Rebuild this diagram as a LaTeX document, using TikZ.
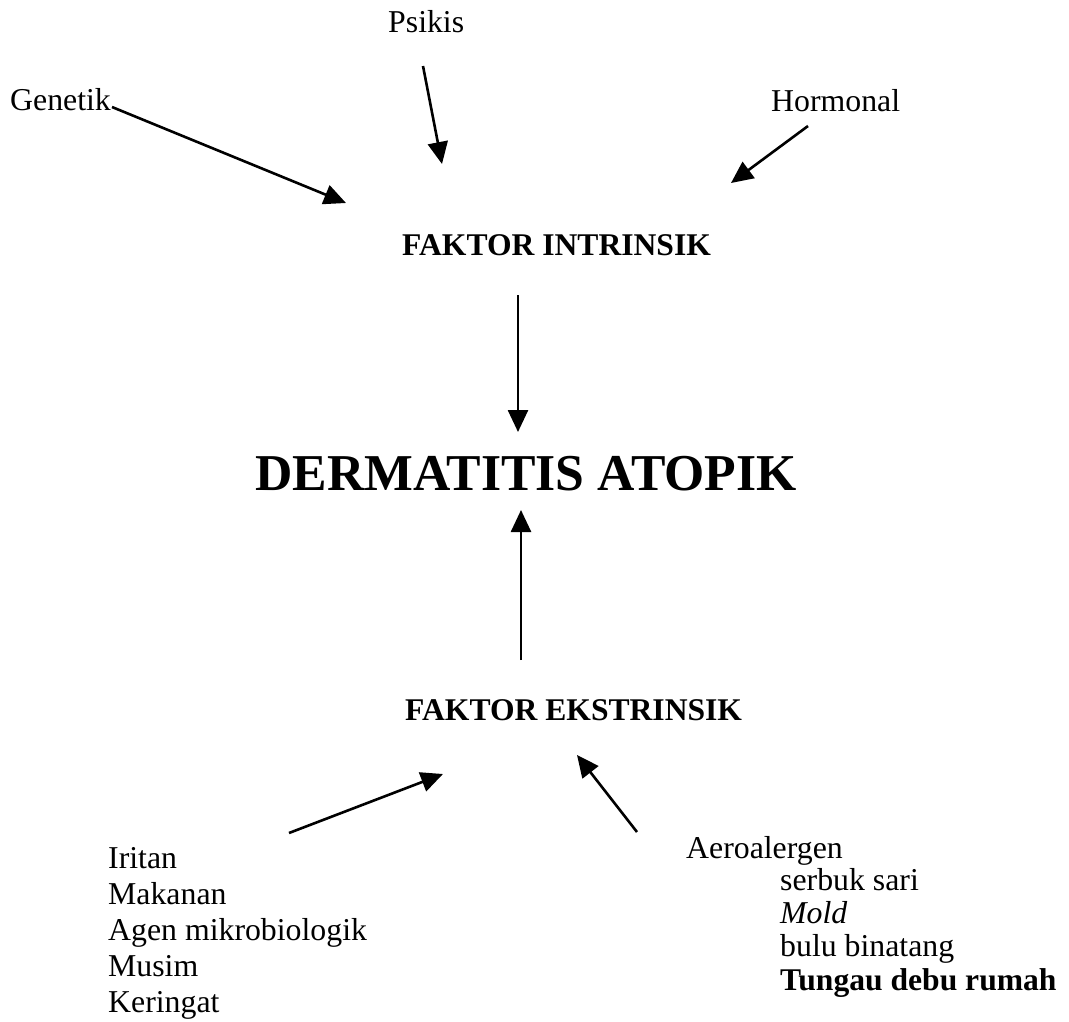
\documentclass[tikz,border=0pt]{standalone}
\usepackage{fontspec}
\setmainfont{Liberation Serif}
\usetikzlibrary{arrows.meta}
\begin{document}
\begin{tikzpicture}[x=1pt,y=-1pt,
  lbl/.style={inner sep=0pt,anchor=base west,font=\fontsize{31.8}{36}\selectfont},
  blbl/.style={lbl,font=\fontsize{31.6}{36}\selectfont\bfseries},
  title/.style={inner sep=0pt,anchor=base west,font=\fontsize{51.7}{56}\selectfont\bfseries},
  arr/.style={line width=2.6pt,-{Triangle[length=22pt,width=20pt]}}]
\useasboundingbox (0,0) rectangle (1069,1021);
% texts
\node[lbl] (psikis) at (388,32) {Psikis};
\node[lbl] (genetik) at (10,110) {Genetik};
\node[lbl] (hormonal) at (771,111) {Hormonal};
\node[blbl] (intr) at (402,255) {FAKTOR INTRINSIK};
\node[title] (derm) at (255,490) {DERMATITIS ATOPIK};
\node[blbl] (ekst) at (405,720) {FAKTOR EKSTRINSIK};
\node[lbl] (l1) at (108,868) {Iritan};
\node[lbl] (l2) at (108,904) {Makanan};
\node[lbl] (l3) at (108,940) {Agen mikrobiologik};
\node[lbl] (l4) at (108,976) {Musim};
\node[lbl] (l5) at (108,1012) {Keringat};
\node[lbl] (r1) at (686,858) {Aeroalergen};
\node[lbl] (r2) at (780,890) {serbuk sari};
\node[lbl] (r3) at (780,923) {\itshape Mold};
\node[lbl] (r4) at (780,956) {bulu binatang};
\node[blbl] (r5) at (780,990) {Tungau debu rumah};
% arrow end points
\coordinate (gs) at (112,107); \coordinate (ge) at (346,203);
\coordinate (ps) at (423,66);  \coordinate (pe) at (442,164);
\coordinate (hs) at (808,126); \coordinate (he) at (731,183);
\coordinate (is) at (518,295); \coordinate (ie) at (518,432);
\coordinate (es) at (521,660); \coordinate (ee) at (521,510);
\coordinate (ls) at (289,833); \coordinate (le) at (443,774);
\coordinate (rs) at (637,832); \coordinate (re) at (577,755);
% arrows
\draw[arr] (gs) -- (ge);
\draw[arr] (ps) -- (pe);
\draw[arr] (hs) -- (he);
\draw[arr] (is) -- (ie);
\draw[arr] (es) -- (ee);
\draw[arr] (ls) -- (le);
\draw[arr] (rs) -- (re);
\end{tikzpicture}
\end{document}
